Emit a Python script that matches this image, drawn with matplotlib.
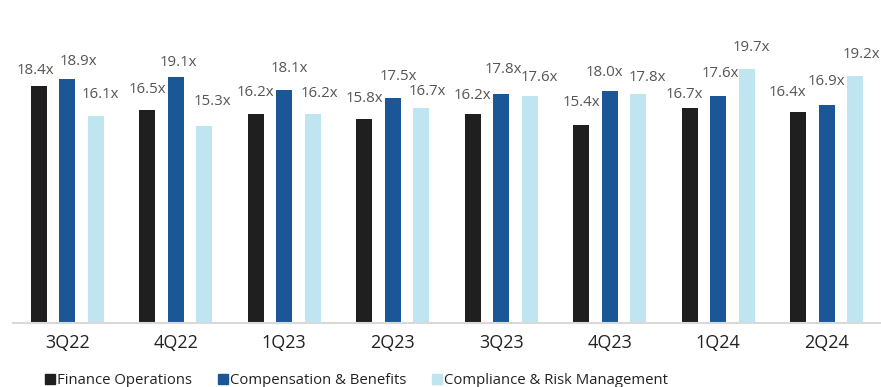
import matplotlib
matplotlib.use("Agg")
import matplotlib.pyplot as plt
import numpy as np
from matplotlib.lines import Line2D

quarters = ["3Q22", "4Q22", "1Q23", "2Q23", "3Q23", "4Q23", "1Q24", "2Q24"]
finance_ops = [18.4, 16.5, 16.2, 15.8, 16.2, 15.4, 16.7, 16.4]
comp_benefits = [18.9, 19.1, 18.1, 17.5, 17.8, 18.0, 17.6, 16.9]
compliance_risk = [16.1, 15.3, 16.2, 16.7, 17.6, 17.8, 19.7, 19.2]
series_names = ["Finance Operations", "Compensation & Benefits", "Compliance & Risk Management"]
colors = ["#1f1f1f", "#1b5797", "#bfe5f0"]

# label placement relative to each bar top (pixels), styling only
label_dy = [
    [15, 21, 22, 21, 19, 22, 13, 19],
    [18, 14, 21, 21, 24, 19, 23, 24],
    [21, 24, 21, 16, 19, 16, 22, 21],
]
label_dx = [
    [-3, 0, 0, 0, 0, 0, -5, -11],
    [11, 3, 5, 6, 2, -5, 2, 0],
    [5, 8, 7, 6, 10, 9, 5, 6],
]

plt.rcParams['font.family'] = ['Open Sans', 'DejaVu Sans']

fig = plt.figure(figsize=(8.81, 3.87), dpi=100)
ax = fig.add_axes([13/881, (387-323)/387, 1 - 13/881, 277/387])

x = np.arange(len(quarters))
offsets = [-0.263, 0.0, 0.263]
width = 0.147
px = 72 / 100
for vals, off, c, dys, dxs in zip([finance_ops, comp_benefits, compliance_risk],
                                  offsets, colors, label_dy, label_dx):
    bars = ax.bar(x + off, vals, width=width, color=c)
    for b, v, dy, dx in zip(bars, vals, dys, dxs):
        ax.annotate(f"{v:.1f}x", (b.get_x() + b.get_width()/2, v),
                    xytext=(dx * px, dy * px), textcoords="offset points",
                    ha="center", va="center", fontsize=10.8, color="#555555")

ax.set_xlim(-0.5, 7.5)
ax.set_ylim(0, 21.5)
ax.set_xticks(x)
ax.set_xticklabels(quarters, fontsize=13, color="#222222")
ax.tick_params(axis="x", length=0, pad=8)
ax.set_yticks([])
for s in ["top", "right", "left"]:
    ax.spines[s].set_visible(False)
ax.spines["bottom"].set_color("#d9d9d9")
ax.spines["bottom"].set_linewidth(1.5)

handles = [Line2D([0], [0], marker="s", linestyle="none", markersize=7.5,
                  markerfacecolor=c, markeredgecolor=c) for c in colors]
fig.legend(handles, series_names, loc="center left", bbox_to_anchor=(0.05, 1 - 381/387),
           ncol=3, frameon=False, fontsize=10.7, handletextpad=0.05,
           columnspacing=1.7, handlelength=0.8, labelcolor="#222222",
           borderpad=0, borderaxespad=0)

fig.savefig("out.png", dpi=100)
